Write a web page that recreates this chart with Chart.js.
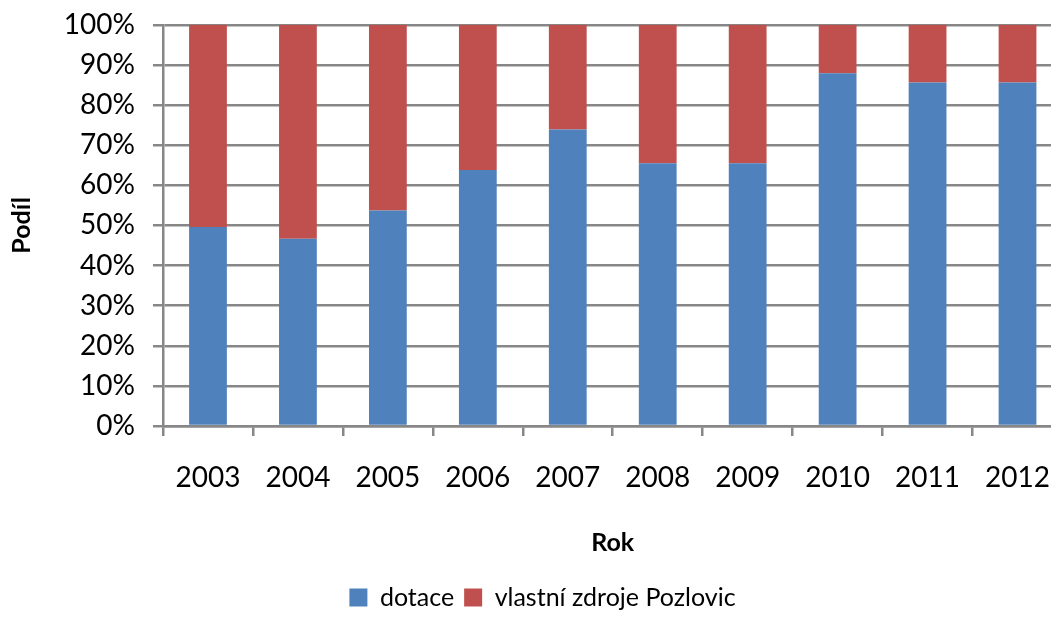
<!DOCTYPE html>
<html>
<head>
<meta charset="utf-8">
<script src="https://cdn.jsdelivr.net/npm/chart.js@4.4.1/dist/chart.umd.min.js"></script>
<style>
  html, body { margin: 0; padding: 0; background: #ffffff; overflow: hidden; }
  #wrap { width: 1075px; height: 647px; margin-top: -10px; }
</style>
</head>
<body>
<div id="wrap"><canvas id="c" width="1075" height="647"></canvas></div>
<script>
const categories = ['2003', '2004', '2005', '2006', '2007', '2008', '2009', '2010', '2011', '2012'];
const dotace = [49.6, 46.7, 53.7, 63.8, 73.9, 65.5, 65.5, 87.9, 85.6, 85.6];
const vlastniZdroje = [50.4, 53.3, 46.3, 36.2, 26.1, 34.5, 34.5, 12.1, 14.4, 14.4];
const seriesNames = ['dotace', 'vlastní zdroje Pozlovic'];
const yTicks = [0, 10, 20, 30, 40, 50, 60, 70, 80, 90, 100];

const FONT = 'Lato, "Open Sans", "Liberation Sans", sans-serif';
const GRID = '#878787';

const legendShift = {
  id: 'legendShift',
  afterLayout(chart) {
    const lg = chart.legend;
    if (lg) { lg.left += 5; lg.right += 5; }
  }
};

new Chart(document.getElementById('c'), {
  type: 'bar',
  data: {
    labels: categories,
    datasets: [
      { label: seriesNames[0], data: dotace, backgroundColor: '#4F81BD', borderWidth: 0,
        barPercentage: 0.42, categoryPercentage: 1.0 },
      { label: seriesNames[1], data: vlastniZdroje, backgroundColor: '#C0504D', borderWidth: 0,
        barPercentage: 0.42, categoryPercentage: 1.0 }
    ]
  },
  options: {
    responsive: false,
    animation: false,
    devicePixelRatio: 1,
    layout: { padding: { top: 15, right: 0, bottom: 17, left: 0 } },
    plugins: {
      tooltip: { enabled: false },
      legend: {
        position: 'bottom',
        align: 'center',
        labels: {
          boxWidth: 18, boxHeight: 18, padding: 10,
          color: '#000000',
          font: { family: FONT, size: 25 }
        }
      }
    },
    scales: {
      x: {
        stacked: true,
        offset: true,
        grid: { display: true, drawOnChartArea: false, drawTicks: true, tickLength: 10, color: GRID, lineWidth: 2.5, offset: true },
        border: { display: true, color: GRID, width: 2.5 },
        ticks: { color: '#000000', padding: 25, font: { family: FONT, size: 28 }, maxRotation: 0 },
        title: { display: true, text: 'Rok', color: '#000000', font: { family: FONT, size: 25, weight: 'bold' }, padding: { top: 0, bottom: 17 } },
        afterFit(scale) { scale.height = 149; }
      },
      y: {
        stacked: true,
        min: 0, max: 100,
        afterBuildTicks(scale) { scale.ticks = yTicks.map(v => ({ value: v })); },
        grid: { color: GRID, lineWidth: 2.5, drawTicks: true, tickLength: 10 },
        border: { display: true, color: GRID, width: 2.5 },
        ticks: { color: '#000000', padding: 18, font: { family: FONT, size: 28 }, callback: v => v + '%' },
        title: { display: true, text: 'Podíl', color: '#000000', font: { family: FONT, size: 25, weight: 'bold' }, padding: { top: 7, bottom: 0 } },
        afterFit(scale) { scale.width = 163; }
      }
    }
  },
  plugins: [legendShift]
});
</script>
</body>
</html>
